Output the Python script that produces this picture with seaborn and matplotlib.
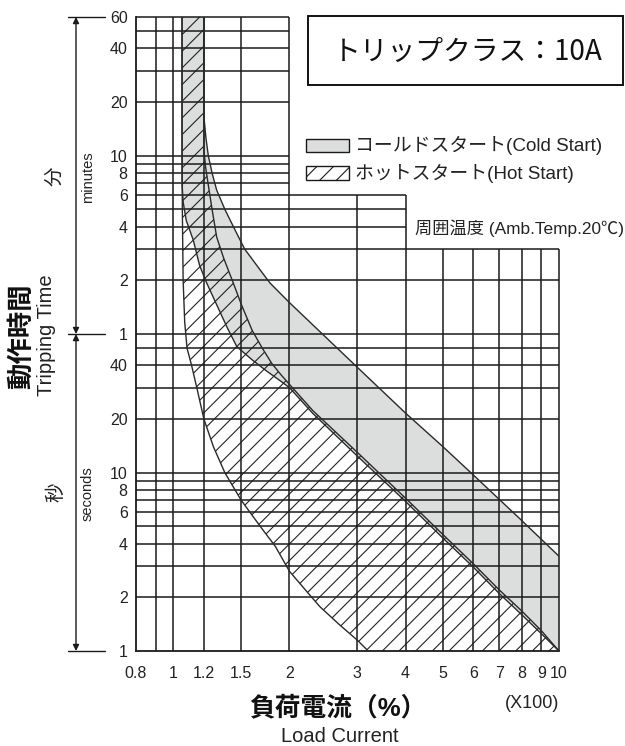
import numpy as np
import pandas as pd
import matplotlib
matplotlib.use("Agg")
import matplotlib.pyplot as plt
import seaborn as sns
from matplotlib.patches import Rectangle
from matplotlib.lines import Line2D
from matplotlib.ticker import NullLocator

sns.set_theme(style="white")
plt.rcParams["font.family"] = ["Liberation Sans", "Noto Sans CJK JP", "DejaVu Sans"]
plt.rcParams["hatch.linewidth"] = 0.8
plt.rcParams["hatch.color"] = "#222222"

# Load current (x100 %) and trip time (seconds) along each band boundary
cold_upper_x = [1.2, 1.2, 1.215, 1.232, 1.26, 1.295, 1.36, 1.445, 1.53, 1.68, 1.78,
                2.0, 3.0, 4.0, 5.0, 6.0, 8.0, 10.0]
cold_upper_t = [3600, 1000, 750, 600, 480, 385, 300, 230, 180, 137, 116,
                90, 39, 21.6, 14, 9.7, 5.4, 3.4]

cold_lower_x = [1.053, 1.053, 1.06, 1.08, 1.126, 1.17, 1.22, 1.3, 1.38, 1.46, 1.6,
                1.75, 1.9, 2.0, 2.3, 3.0, 4.0, 5.0, 6.0, 7.0, 8.0, 9.0, 10.0]
cold_lower_t = [3600, 420, 330, 260, 202, 145, 116, 86, 65, 51, 43,
                37, 32.6, 30, 21.5, 12.4, 6.9, 4.3, 2.95, 2.1, 1.6, 1.25, 1.0]

hot_upper_x = [1.2, 1.2, 1.212, 1.23, 1.26, 1.295, 1.35, 1.43, 1.5, 1.6, 1.7, 1.8,
               1.9, 2.0, 2.3, 3.0, 4.0, 5.0, 6.0, 7.0, 8.0, 9.0, 10.0]
hot_upper_t = [3600, 650, 520, 420, 300, 210, 160, 116, 88, 63, 50, 41,
               35.5, 31.3, 22.3, 13.0, 7.2, 4.5, 3.08, 2.2, 1.68, 1.3, 1.0]

hot_lower_x = [1.053, 1.053, 1.055, 1.06, 1.07, 1.085, 1.115, 1.15, 1.2, 1.27, 1.36,
               1.5, 1.68, 1.84, 2.0, 2.2, 2.4, 2.7, 3.0, 3.2]
hot_lower_t = [3600, 900, 300, 120, 70, 50, 40, 30, 20, 14, 10,
               7.0, 5.0, 3.85, 2.8, 2.2, 1.77, 1.4, 1.15, 1.0]

# Axis ticks
x_ticks = [0.8, 1, 1.2, 1.5, 2, 3, 4, 5, 6, 7, 8, 9, 10]
x_tick_labels = ["0.8", "1", "1.2", "1.5", "2", "3", "4", "5", "6", "7", "8", "9", "10"]
y_ticks = [1, 2, 4, 6, 8, 10, 20, 40, 60, 120, 240, 360, 480, 600, 1200, 2400, 3600]
y_tick_labels = ["1", "2", "4", "6", "8", "10", "20", "40",
                 "1", "2", "4", "6", "8", "10", "20", "40", "60"]

# Grid layout (the chart grid is stepped at the upper right)
vgrid_full = [0.9, 1.0, 1.2, 1.5, 2.0]
vgrid_to_6min = [3.0, 4.0]
vgrid_to_3min = [5.0, 6.0, 7.0, 8.0, 9.0, 10.0]
hgrid_full = [2, 3, 4, 5, 6, 7, 8, 9, 10, 20, 30, 40, 50, 60, 120, 180]
hgrid_to_4 = [240, 300, 360]
hgrid_to_2 = [420, 480, 540, 600, 1200, 1800, 2400, 3000, 3600]

W, H = 625, 746
fig = plt.figure(figsize=(W / 100, H / 100), dpi=100)
ax = fig.add_axes([136 / W, 95 / H, 423 / W, 634 / H])
ax.set_xscale("log")
ax.set_yscale("log")
ax.set_xlim(0.8, 10)
ax.set_ylim(1, 3600)

GRAY = "#dcdddd"
INK = "#1a1a1a"

# Bands
cold_poly = list(zip(cold_lower_x, cold_lower_t)) + list(zip(cold_upper_x, cold_upper_t))[::-1]
hot_poly = list(zip(hot_lower_x, hot_lower_t)) + list(zip(hot_upper_x, hot_upper_t))[::-1]
ax.fill(*zip(*cold_poly), facecolor=GRAY, edgecolor="none", zorder=1)
ax.fill(*zip(*hot_poly), facecolor="none", edgecolor="#222222", linewidth=0,
        hatch="//", zorder=1.5)

# Grid
gkw = dict(color=INK, linewidth=1.1, zorder=2, clip_on=False)
ax.vlines(vgrid_full, 1, 3600, **gkw)
ax.vlines(vgrid_to_6min, 1, 360, **gkw)
ax.vlines(vgrid_to_3min, 1, 180, **gkw)
ax.hlines(hgrid_full, 0.8, 10, **gkw)
ax.hlines(hgrid_to_4, 0.8, 4, **gkw)
ax.hlines(hgrid_to_2, 0.8, 2, **gkw)

# Boundary curves
for xs, ts in [(cold_upper_x, cold_upper_t), (cold_lower_x, cold_lower_t),
               (hot_upper_x, hot_upper_t), (hot_lower_x, hot_lower_t)]:
    df = pd.DataFrame({"current": xs, "time": ts})
    sns.lineplot(data=df, x="current", y="time", sort=False, estimator=None,
                 color="#2a2a2a", linewidth=1.0, ax=ax, zorder=3, legend=False)

ax.set_xlabel("")
ax.set_ylabel("")
for s in ["top", "right"]:
    ax.spines[s].set_visible(False)
for s in ["left", "bottom"]:
    ax.spines[s].set_color(INK)
    ax.spines[s].set_linewidth(1.3)

ax.set_xticks(x_ticks)
ax.set_xticklabels(x_tick_labels)
ax.set_yticks(y_ticks)
ax.set_yticklabels(y_tick_labels)
ax.xaxis.set_minor_locator(NullLocator())
ax.yaxis.set_minor_locator(NullLocator())
ax.tick_params(axis="x", length=0, pad=11, labelsize=11.5, colors="#222222")
ax.tick_params(axis="y", length=0, pad=6, labelsize=11.5, colors="#222222")


def fx(px):
    return px / W


def fy(py):
    return 1 - py / H


# Time-range brackets and arrows on the left
trans = ax.get_yaxis_transform()
xa = (76 - 136) / 423
for t in [3600, 60, 1]:
    ax.add_line(Line2D([(68 - 136) / 423, (105 - 136) / 423], [t, t], transform=trans,
                       color=INK, linewidth=1.0, clip_on=False))
for t0, t1 in [(3600, 60), (60, 1)]:
    ax.annotate("", xy=(xa, t0), xytext=(xa, t1), xycoords=trans, textcoords=trans,
                annotation_clip=False,
                arrowprops=dict(arrowstyle="<|-|>", color=INK, lw=1.0,
                                mutation_scale=9, shrinkA=0, shrinkB=0))

fig.text(fx(56), fy(176), "分", rotation=90, fontsize=14, ha="center", va="center", color="#222222")
fig.text(fx(88), fy(177), "minutes", rotation=90, fontsize=10.5, ha="center", va="center", color="#222222")
fig.text(fx(56), fy(492), "秒", rotation=90, fontsize=14, ha="center", va="center", color="#222222")
fig.text(fx(88), fy(494), "seconds", rotation=90, fontsize=10.5, ha="center", va="center", color="#222222")
fig.text(fx(22), fy(336), "動作時間", rotation=90, fontsize=19, fontweight="bold",
         ha="center", va="center", color="#111111")
fig.text(fx(46), fy(335), "Tripping Time", rotation=90, fontsize=14.5,
         ha="center", va="center", color="#222222")

# Axis titles
fig.text(fx(338), fy(708), "負荷電流（%）", fontsize=18.5, fontweight="bold",
         ha="center", va="center", color="#111111")
fig.text(fx(340), fy(737), "Load Current", fontsize=14.5, ha="center", va="center", color="#222222")
fig.text(fx(532), fy(703), "(X100)", fontsize=13, ha="center", va="center", color="#222222")

# Title box
fig.add_artist(Rectangle((fx(308), fy(85)), fx(623) - fx(308), fy(16) - fy(85),
                         transform=fig.transFigure, facecolor="white",
                         edgecolor="#111111", linewidth=1.4))
fig.text(fx(468), fy(52), "トリップクラス：10A", fontsize=20, ha="center", va="center",
         color="#111111", family=["Noto Sans CJK JP", "DejaVu Sans"])

# Legend
fig.add_artist(Rectangle((fx(306), fy(152)), fx(349) - fx(306), fy(139) - fy(152),
                         transform=fig.transFigure, facecolor=GRAY,
                         edgecolor=INK, linewidth=1.0))
fig.add_artist(Rectangle((fx(306), fy(180)), fx(349) - fx(306), fy(166) - fy(180),
                         transform=fig.transFigure, facecolor="white",
                         edgecolor=INK, linewidth=1.0, hatch="//"))
fig.text(fx(355), fy(145), "コールドスタート(Cold Start)", fontsize=13.6,
         ha="left", va="center", color="#222222")
fig.text(fx(355), fy(173), "ホットスタート(Hot Start)", fontsize=13.6,
         ha="left", va="center", color="#222222")
fig.text(fx(415), fy(228), "周囲温度 (Amb.Temp.20℃)", fontsize=12.4,
         ha="left", va="center", color="#222222")

fig.savefig("out.png", dpi=100, facecolor="white")
